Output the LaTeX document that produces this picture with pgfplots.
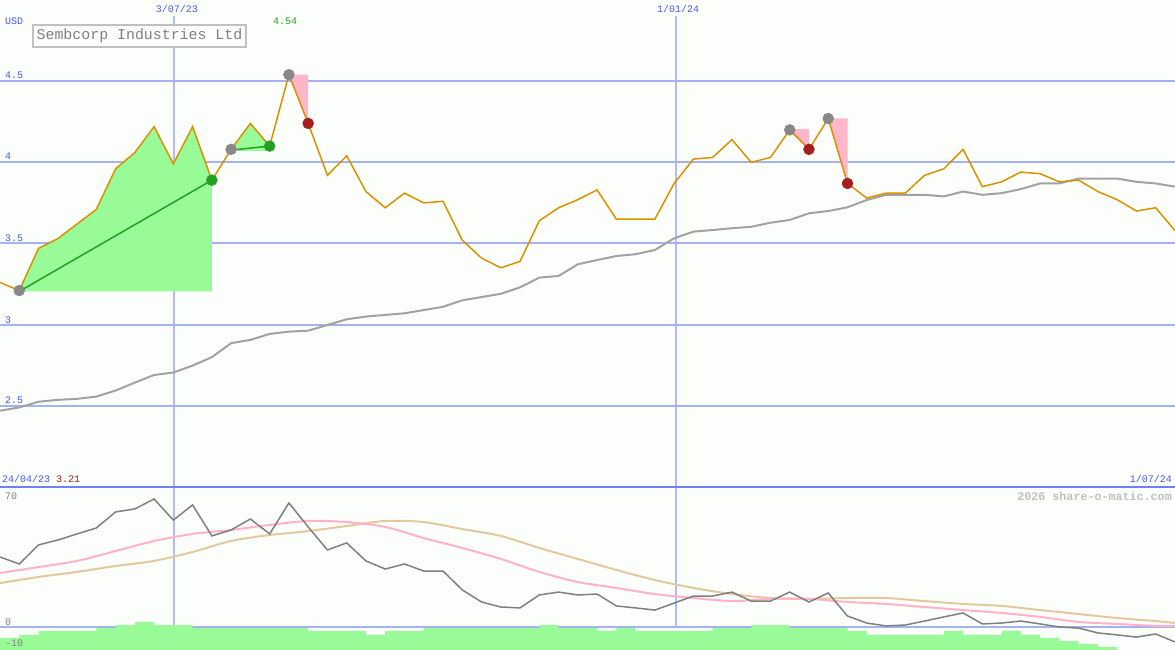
\documentclass[border=0pt]{standalone}
\usepackage{fontspec}
\setmainfont{Liberation Mono}
\usepackage{pgfplots}
\usepackage{pgfplotstable}
\pgfplotsset{compat=1.18}

\definecolor{bg}{RGB}{252,254,252}
\definecolor{gridblue}{RGB}{164,178,240}
\definecolor{vgrid}{RGB}{176,188,246}
\definecolor{sepblue}{RGB}{112,128,240}
\definecolor{txtblue}{RGB}{72,88,240}
\definecolor{priceorange}{RGB}{218,145,0}
\definecolor{magray}{RGB}{162,162,162}
\definecolor{upfill}{RGB}{152,251,152}
\definecolor{upgreen}{RGB}{34,160,34}
\definecolor{downpink}{RGB}{255,182,200}
\definecolor{downred}{RGB}{165,30,30}
\definecolor{dotgray}{RGB}{136,136,136}
\definecolor{rsigray}{RGB}{128,128,128}
\definecolor{sigpink}{RGB}{255,178,200}
\definecolor{sigtan}{RGB}{226,202,156}
\definecolor{titlegray}{RGB}{128,128,128}
\definecolor{boxgray}{RGB}{192,192,192}

\newcommand{\sm}{\fontsize{10pt}{10pt}\selectfont}

% weekly closes, week 0 = first column
\pgfplotstableread{
w p
0 3.26
1 3.21
2 3.47
3 3.53
4 3.62
5 3.71
6 3.96
7 4.06
8 4.22
9 3.99
10 4.22
11 3.89
12 4.08
13 4.24
14 4.10
15 4.54
16 4.24
17 3.92
18 4.04
19 3.82
20 3.72
21 3.81
22 3.75
23 3.76
24 3.52
25 3.41
26 3.35
27 3.39
28 3.64
29 3.72
30 3.77
31 3.83
32 3.65
33 3.65
34 3.65
35 3.87
36 4.02
37 4.03
38 4.14
39 4.00
40 4.03
41 4.20
42 4.08
43 4.27
44 3.87
45 3.78
46 3.81
47 3.81
48 3.92
49 3.96
50 4.08
51 3.85
52 3.88
53 3.94
54 3.93
55 3.88
56 3.89
57 3.82
58 3.77
59 3.70
60 3.72
61 3.58
}\price

\pgfplotstableread{
w m
0 2.47
1 2.49
2 2.525
3 2.537
4 2.543
5 2.557
6 2.594
7 2.643
8 2.69
9 2.705
10 2.748
11 2.80
12 2.886
13 2.906
14 2.943
15 2.957
16 2.963
17 2.998
18 3.033
19 3.05
20 3.06
21 3.07
22 3.09
23 3.11
24 3.15
25 3.17
26 3.19
27 3.23
28 3.29
29 3.30
30 3.372
31 3.398
32 3.423
33 3.434
34 3.46
35 3.532
36 3.573
37 3.583
38 3.594
39 3.603
40 3.628
41 3.645
42 3.686
43 3.70
44 3.723
45 3.768
46 3.80
47 3.80
48 3.80
49 3.79
50 3.82
51 3.80
52 3.81
53 3.835
54 3.87
55 3.87
56 3.90
57 3.90
58 3.90
59 3.88
60 3.87
61 3.85
}\mavg

\pgfplotstableread{
w r
0 38.9
1 35.0
2 45.6
3 48.3
4 51.7
5 55.0
6 63.9
7 65.6
8 71.1
9 59.4
10 67.8
11 50.6
12 53.9
13 60.0
14 51.7
15 68.9
16 55.6
17 42.8
18 46.7
19 36.7
20 32.2
21 35.0
22 31.1
23 31.1
24 20.6
25 13.9
26 11.1
27 10.6
28 17.8
29 19.4
30 17.8
31 18.3
32 11.7
33 10.6
34 9.4
35 13.3
36 17.2
37 17.2
38 19.4
39 14.4
40 14.4
41 19.4
42 13.9
43 18.9
44 6.1
45 2.2
46 0.6
47 1.1
48 3.3
49 5.6
50 7.8
51 1.7
52 2.2
53 3.3
54 1.7
55 0.0
56 -0.6
57 -3.3
58 -4.4
59 -5.6
60 -3.9
61 -8.3
}\rsi

\pgfplotstableread{
w a b
0 30.0 24.4
2 33.3 27.8
4 36.7 30.6
6 42.2 33.9
8 47.8 36.7
10 51.7 41.7
12 53.9 47.8
14 56.7 51.1
16 58.9 53.3
18 58.3 56.1
20 55.6 58.9
22 49.4 58.3
24 43.9 54.4
26 37.8 50.6
28 30.6 43.9
30 25.0 37.8
32 21.7 31.7
34 18.3 26.1
36 16.1 21.7
38 14.4 18.3
40 15.6 16.1
42 15.6 15.6
44 13.9 16.1
46 12.8 16.1
48 11.1 14.4
50 9.4 12.8
52 7.8 11.7
54 5.6 9.4
56 2.8 7.2
58 1.7 5.0
60 0.6 3.3
61 0.6 2.2
}\signals

\pgfplotstableread{
w h
0 -6.1
1 -4.4
2 -2.2
3 -2.2
4 -2.2
5 -0.6
6 1.1
7 2.8
8 1.1
9 1.1
10 -0.6
11 -0.6
12 -0.6
13 -0.6
14 -0.6
15 -0.6
16 -2.2
17 -2.2
18 -2.2
19 -4.4
20 -2.2
21 -2.2
22 -0.6
23 -0.6
24 -0.6
25 -0.6
26 -0.6
27 -0.6
28 1.1
29 -0.6
30 -0.6
31 -2.2
32 -0.6
33 -2.2
34 -2.2
35 -2.2
36 -2.2
37 -0.6
38 -0.6
39 1.1
40 1.1
41 -0.6
42 -0.6
43 -0.6
44 -2.2
45 -4.4
46 -4.4
47 -4.4
48 -4.4
49 -2.2
50 -4.4
51 -4.4
52 -2.2
53 -4.4
54 -6.1
55 -7.8
56 -9.4
57 -11.1
58 -14
61 -14
0 -14
}\hist

\pgfplotsset{
  panel/.style={
    scale only axis, width=1175pt, xmin=0, xmax=61,
    axis line style={draw=none}, tick style={draw=none},
    xtick=\empty, yticklabels={}, ymajorgrids,
  },
}

\begin{document}
\begin{tikzpicture}
\fill[bg] (0,0) rectangle (1175pt,650pt);
% date lines across both panels
\draw[vgrid, line width=1.5pt] (174pt,23pt) -- (174pt,634pt);
\draw[vgrid, line width=1.5pt] (676pt,23pt) -- (676pt,634pt);

% price panel
\begin{axis}[panel, at={(0pt,163pt)}, height=487pt, ymin=2, ymax=5,
  ytick={2.5,3,3.5,4,4.5}, major grid style={gridblue, line width=2pt}]
\addplot[fill=upfill, draw=none] coordinates {
  (1,3.205) (2,3.47) (3,3.53) (4,3.62) (5,3.71) (6,3.96) (7,4.06)
  (8,4.22) (9,3.99) (10,4.22) (11,3.89) (11,3.205)};
\addplot[fill=upfill, draw=none] coordinates {
  (12,4.071) (13,4.235) (14,4.10) (14,4.071)};
\addplot[fill=downpink, draw=none] coordinates {(15,4.54) (16,4.54) (16,4.24)};
\addplot[fill=downpink, draw=none] coordinates {(41,4.205) (42,4.205) (42,4.075)};
\addplot[fill=downpink, draw=none] coordinates {(43,4.27) (44,4.27) (44,3.866)};
\addplot[magray, line width=2pt] table[x=w, y=m] {\mavg};
\addplot[upgreen, line width=1.5pt] coordinates {(1,3.205) (11,3.89)};
\addplot[upgreen, line width=1.5pt] coordinates {(12,4.075) (14,4.10)};
\addplot[only marks, mark=*, mark size=5.5pt, dotgray] coordinates {
  (1,3.21) (12,4.08) (15,4.54) (41,4.20) (43,4.27)};
\addplot[only marks, mark=*, mark size=5.5pt, upgreen] coordinates {
  (11,3.89) (14,4.10)};
\addplot[only marks, mark=*, mark size=5.5pt, downred] coordinates {
  (16,4.24) (42,4.08) (44,3.87)};
\addplot[priceorange, line width=1.5pt] table[x=w, y=p] {\price};
\end{axis}

% indicator panel
\begin{axis}[panel, at={(0pt,0pt)}, height=163pt, ymin=-12.78, ymax=77.78,
  ytick={0}, major grid style={gridblue, line width=1.5pt}]
\addplot[const plot mark left, fill=upfill, draw=none] table[x=w, y=h] {\hist};
\addplot[sigtan, line width=2pt, smooth] table[x=w, y=b] {\signals};
\addplot[sigpink, line width=2pt, smooth] table[x=w, y=a] {\signals};
\addplot[rsigray, line width=1.5pt] table[x=w, y=r] {\rsi};
\end{axis}

\draw[sepblue, line width=2pt] (0,163pt) -- (1175pt,163pt);

% texts
\begin{scope}[every node/.style={inner sep=0pt, font=\sm}]
\node[anchor=west, txtblue] at (5pt,629pt) {USD};
\node[txtblue, fill=bg, inner sep=1pt] at (177pt,641pt) {3/07/23};
\node[txtblue, fill=bg, inner sep=1pt] at (678pt,641pt) {1/01/24};
\node[anchor=west, upgreen] at (273pt,629pt) {4.54};
\node[anchor=west, txtblue] at (5pt,575pt) {4.5};
\node[anchor=west, txtblue] at (5pt,494pt) {4};
\node[anchor=west, txtblue] at (5pt,412pt) {3.5};
\node[anchor=west, txtblue] at (5pt,330pt) {3};
\node[anchor=west, txtblue] at (5pt,250pt) {2.5};
\node[anchor=west, txtblue] at (2pt,171pt) {24/04/23};
\node[anchor=west, downred] at (56pt,171pt) {3.21};
\node[anchor=east, txtblue] at (1172pt,171pt) {1/07/24};
\node[anchor=east, boxgray, font=\fontsize{11.7pt}{12pt}\selectfont\bfseries] at (1172pt,154pt) {2026 share-o-matic.com};
\node[anchor=west, rsigray] at (5pt,154pt) {70};
\node[anchor=west, rsigray] at (5pt,28pt) {0};
\node[anchor=west, rsigray] at (5pt,7pt) {-10};
\end{scope}

\draw[boxgray, line width=2pt, fill=bg] (33pt,603pt) rectangle (246pt,625pt);
\node[titlegray, inner sep=0pt, font=\fontsize{14.9pt}{15pt}\selectfont] at (139.5pt,614pt) {Sembcorp Industries Ltd};

\pgfresetboundingbox
\useasboundingbox (0,0) rectangle (1175pt,650pt);
\end{tikzpicture}
\end{document}
